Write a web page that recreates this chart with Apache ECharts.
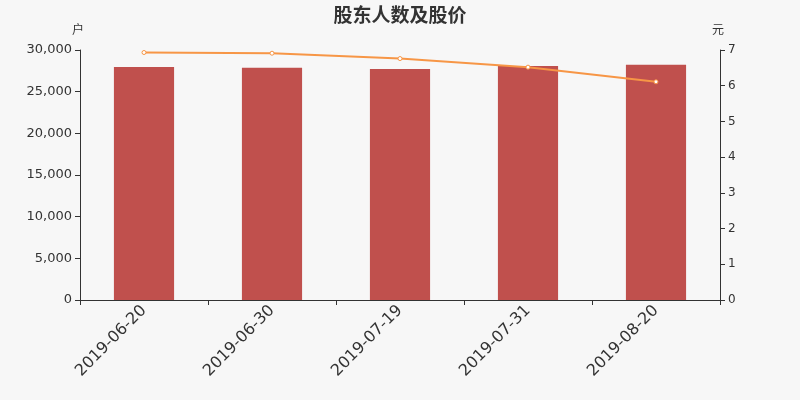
<!DOCTYPE html>
<html><head><meta charset="utf-8">
<script src="https://cdn.jsdelivr.net/npm/echarts@6/dist/echarts.min.js"></script>
<style>html,body{margin:0;padding:0;background:#f7f7f7}#c{width:800px;height:400px}</style>
</head><body><div id="c"></div>
<script>
const categories = ['2019-06-20','2019-06-30','2019-07-19','2019-07-31','2019-08-20'];
const holders = [27960, 27880, 27720, 28080, 28240];
const prices = [6.93, 6.91, 6.76, 6.52, 6.11];
const chart = echarts.init(document.getElementById('c'));
const font = 'DejaVu Sans';
chart.setOption({
  backgroundColor: '#f7f7f7',
  animation: false,
  title: { text: '股东人数及股价', left: 'center', top: 0, textStyle: { fontSize: 19, fontWeight: 'bold', color: '#333', fontFamily: 'Noto Sans CJK SC' } },
  grid: { left: 80, right: 80, top: 50, bottom: 100 },
  xAxis: {
    type: 'category', data: categories, boundaryGap: true,
    axisLine: { lineStyle: { color: '#333' } },
    axisTick: { show: true, alignWithLabel: false, lineStyle: { color: '#333' } },
    axisLabel: { rotate: 45, fontSize: 16, color: '#333', fontFamily: font, interval: 0, margin: 8 }
  },
  yAxis: [
    { type: 'value', name: '户', min: 0, max: 30000, interval: 5000,
      nameTextStyle: { color: '#333', fontSize: 12, align: 'center', fontFamily: 'Noto Sans CJK SC', padding: [0, 4, 0, 0] }, nameGap: 15,
      axisLine: { show: true, lineStyle: { color: '#333' } }, axisTick: { show: true },
      splitLine: { show: false },
      axisLabel: { color: '#333', fontSize: 13, fontFamily: font, formatter: v => v.toLocaleString('en-US') } },
    { type: 'value', name: '元', min: 0, max: 7, interval: 1,
      nameTextStyle: { color: '#333', fontSize: 12, align: 'center', fontFamily: 'Noto Sans CJK SC', padding: [0, 4, 0, 0] }, nameGap: 15,
      axisLine: { show: true, lineStyle: { color: '#333' } }, axisTick: { show: true },
      splitLine: { show: false },
      axisLabel: { color: '#333', fontSize: 12, fontFamily: font } }
  ],
  series: [
    { type: 'bar', data: holders, yAxisIndex: 0, barWidth: '47%', itemStyle: { color: '#c0504d' } },
    { type: 'line', data: prices, yAxisIndex: 1, symbol: 'circle', symbolSize: 4,
      lineStyle: { color: '#f79646', width: 2 },
      itemStyle: { color: '#fff', borderColor: '#f79646', borderWidth: 1 } }
  ]
});
</script></body></html>
